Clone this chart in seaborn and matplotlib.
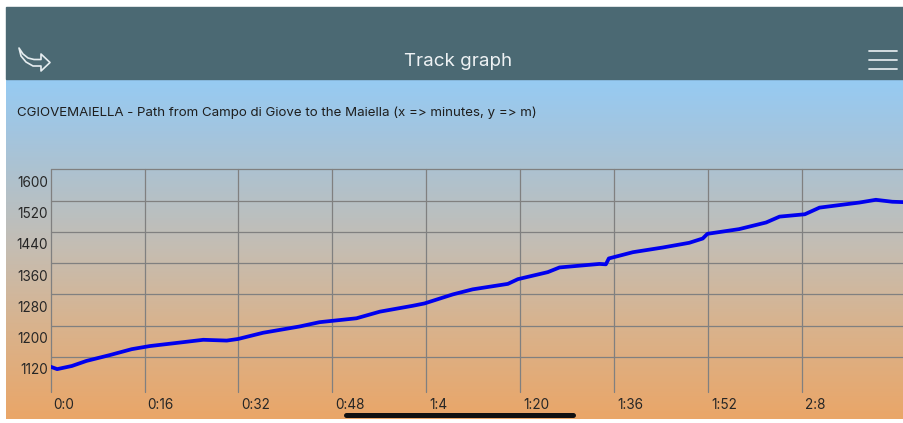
import numpy as np
import seaborn as sns
import matplotlib.pyplot as plt
from matplotlib.transforms import ScaledTranslation
from matplotlib.patches import Rectangle, Polygon
from matplotlib.colors import LinearSegmentedColormap

# track data: minutes from start vs altitude (m)
minutes = [0, 1.1, 3.6, 6.1, 10.1, 13.8, 16.9, 20.9, 26.0, 30.0, 31.9, 36.2,
           42.4, 45.8, 52.1, 56.1, 61.7, 63.7, 68.5, 71.9, 77.9, 79.6, 84.7,
           86.7, 93.5, 94.6, 95.1, 99.2, 104.3, 108.8, 111.1, 111.9, 117.3,
           121.9, 124.2, 128.5, 131.0, 137.8, 140.6, 143.4, 145.4]
altitude = [1095, 1089, 1097, 1110, 1125, 1140, 1148, 1155, 1164, 1162, 1166,
            1182, 1198, 1209, 1219, 1236, 1251, 1257, 1280, 1293, 1307, 1319,
            1337, 1349, 1358, 1357, 1372, 1388, 1400, 1412, 1423, 1435, 1447,
            1464, 1479, 1485, 1502, 1515, 1522, 1517, 1516]

x_ticks = [0, 16, 32, 48, 64, 80, 96, 112, 128]
x_labels = ["0:0", "0:16", "0:32", "0:48", "1:4", "1:20", "1:36", "1:52", "2:8"]
y_ticks = [1120, 1200, 1280, 1360, 1440, 1520, 1600]
y_labels = [str(v) for v in y_ticks]

header_title = "Track graph"
chart_title = "CGIOVEMAIELLA - Path from Campo di Giove to the Maiella (x => minutes, y => m)"

sns.set_style("white")
plt.rcParams['font.family'] = ['Inter', 'DejaVu Sans']

W, H = 904, 423
fig = plt.figure(figsize=(W / 100, H / 100), dpi=100)
fig.patch.set_facecolor("white")

# background layer in pixel coords
bg = fig.add_axes([0, 0, 1, 1])
bg.set_xlim(0, W)
bg.set_ylim(H, 0)
bg.axis("off")

stops = [(0.0, (150, 203, 243)), (0.15, (162, 197, 224)), (0.27, (173, 194, 208)),
         (0.50, (197, 189, 178)), (0.72, (216, 179, 142)), (1.0, (234, 166, 104))]
cmap = LinearSegmentedColormap.from_list(
    "sky", [(p, tuple(c / 255 for c in rgb)) for p, rgb in stops])
grad = np.linspace(0, 1, 256).reshape(-1, 1)
bg.imshow(grad, cmap=cmap, aspect="auto", extent=(6, W, 419, 79), zorder=0)

# header bar
bg.add_patch(Rectangle((6, 7), W - 6, 72.5, color="#4b6973", zorder=1))
bg.text(458, 61, header_title, color="#eef2f4", fontsize=13.5,
        ha="center", va="center", zorder=2)
# hamburger icon
for yy in (51, 60, 69):
    bg.plot([869, 897], [yy, yy], color="#dfe7ea", lw=1.3, solid_capstyle="round", zorder=2)
# back/share arrow icon
arrow_pts = [(19, 48), (23, 54), (28, 58), (34, 59.5), (41, 59.5), (41, 54), (50, 62.5),
             (41, 71), (41, 66), (33, 66), (26, 62), (21, 56)]
bg.add_patch(Polygon(arrow_pts, closed=True, fill=False, edgecolor="#e6edf0",
                     lw=1.2, joinstyle="round", zorder=2))

sub = bg.text(17, 113, chart_title, color="#1e1e1e", fontsize=9.5,
              ha="left", va="center", zorder=2)

# home indicator
bg.plot([346, 573], [415, 415], color="#111111", lw=3.6, solid_capstyle="round", zorder=3)

# fit subtitle width to reference
fig.canvas.draw()
r = fig.canvas.get_renderer()
w = sub.get_window_extent(r).width
sub.set_fontsize(9.5 * 521 / w)

# chart axes
left, right, top, bottom = 50.7, W, 169.3, 392.3
ax = fig.add_axes([left / W, (H - bottom) / H, (right - left) / W, (bottom - top) / H])
ax.patch.set_alpha(0)

sns.lineplot(x=minutes, y=altitude, ax=ax, color="#0000ee", lw=2.7, zorder=3)

ax.set_xlim(0, (right - left) / 93.9 * 16)
ax.set_ylim(1120 - (bottom - 357.0) / 31.28 * 80, 1600)
ax.set_xticks(x_ticks, x_labels)
ax.set_yticks(y_ticks, y_labels)
ax.grid(True, color="#808080", lw=0.9)
for s in ax.spines.values():
    s.set_visible(False)
ax.tick_params(axis="both", length=0, labelsize=9.8, labelcolor="#262626")
ax.tick_params(axis="y", pad=2)
ax.tick_params(axis="x", pad=9)
for gl in ax.get_xgridlines() + ax.get_ygridlines():
    gl.set_clip_on(False)
for lbl in ax.get_yticklabels():
    lbl.set_transform(lbl.get_transform() + ScaledTranslation(0, -0.12, fig.dpi_scale_trans))
for lbl in ax.get_xticklabels():
    lbl.set_ha("left")
    lbl.set_va("center")
    lbl.set_transform(lbl.get_transform() + ScaledTranslation(0.03, 0, fig.dpi_scale_trans))

fig.savefig("out.png", dpi=100)
